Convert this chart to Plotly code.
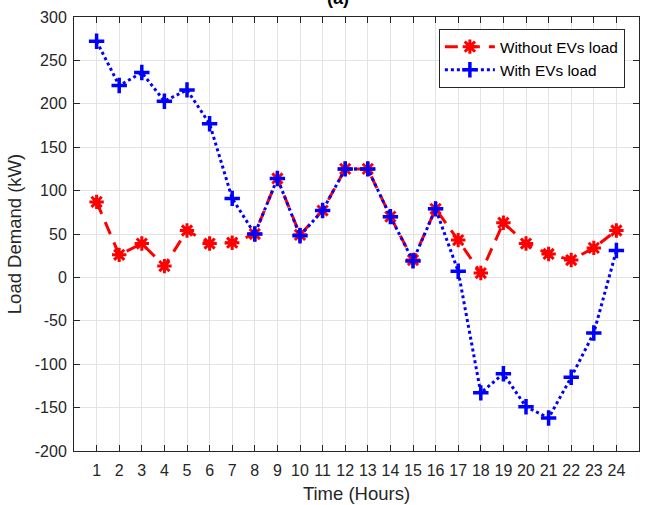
import plotly.graph_objects as go

# Hourly load demand (kW) over a 24-hour day
hours = list(range(1, 25))
without_ev = [87, 26, 39, 13, 54, 39, 40, 50, 114, 49, 77, 125,
              125, 70, 20, 79, 43, 5, 63, 39, 27, 20, 34, 54]
with_ev = [272, 221, 236, 203, 216, 177, 91, 50, 114, 48, 77, 125,
           125, 70, 19, 79, 7, -133, -111, -149, -162, -115, -64, 31]

y_ticks = list(range(-200, 301, 50))
x_ticks = hours

axis_color = "#262626"
grid_color = "#e3e3e3"
font_family = "Liberation Sans, Arial, sans-serif"

fig = go.Figure()

fig.add_trace(go.Scatter(
    x=hours, y=without_ev, name="Without EVs load",
    mode="lines+markers",
    line=dict(color="#ff0000", width=3, dash="13px,9px"),
    marker=dict(symbol="asterisk-open", size=12, color="#ff0000",
                line=dict(color="#ff0000", width=3)),
))
fig.add_trace(go.Scatter(
    x=hours, y=with_ev, name="With EVs load",
    mode="lines+markers",
    line=dict(color="#0000ff", width=3, dash="3px,3px"),
    marker=dict(symbol="cross-thin-open", size=11, color="#0000ff",
                line=dict(color="#0000ff", width=3.5)),
))

fig.update_layout(
    width=648, height=505,
    margin=dict(l=74, r=9, t=17, b=54, autoexpand=False),
    paper_bgcolor="white", plot_bgcolor="white",
    font=dict(family=font_family, color=axis_color, size=16),
    showlegend=True,
    legend=dict(
        x=0.975, y=0.972, xanchor="right", yanchor="top",
        bgcolor="white", bordercolor=axis_color, borderwidth=1,
        font=dict(size=15.4, color="#000000"),
        tracegroupgap=0, itemwidth=50,
    ),
    annotations=[dict(
        text="<b>(a)</b>", x=(338 - 74) / 565, y=1.016,
        xref="paper", yref="paper", xanchor="center", yanchor="bottom",
        showarrow=False, font=dict(size=18, color="#000000"),
    )],
)

fig.update_xaxes(
    range=[0, 25], tickvals=x_ticks, ticktext=[str(h) for h in x_ticks],
    showgrid=True, gridcolor=grid_color, gridwidth=1,
    showline=True, linecolor=axis_color, linewidth=1, mirror="ticks",
    ticks="inside", ticklen=6, tickcolor=axis_color,
    ticklabelstandoff=5, automargin=False,
    zeroline=False, tickfont=dict(size=16),
    title=dict(text="Time (Hours)", font=dict(size=18.5), standoff=8),
)
fig.update_yaxes(
    range=[-200, 300], tickvals=y_ticks,
    ticktext=[str(v) for v in y_ticks],
    showgrid=True, gridcolor=grid_color, gridwidth=1,
    showline=True, linecolor=axis_color, linewidth=1, mirror="ticks",
    ticks="inside", ticklen=6, tickcolor=axis_color,
    ticklabelstandoff=3, automargin=False,
    zeroline=False, tickfont=dict(size=16),
    title=dict(text="Load Demand (kW)", font=dict(size=18.5), standoff=8),
)

fig.write_html("out.html")
